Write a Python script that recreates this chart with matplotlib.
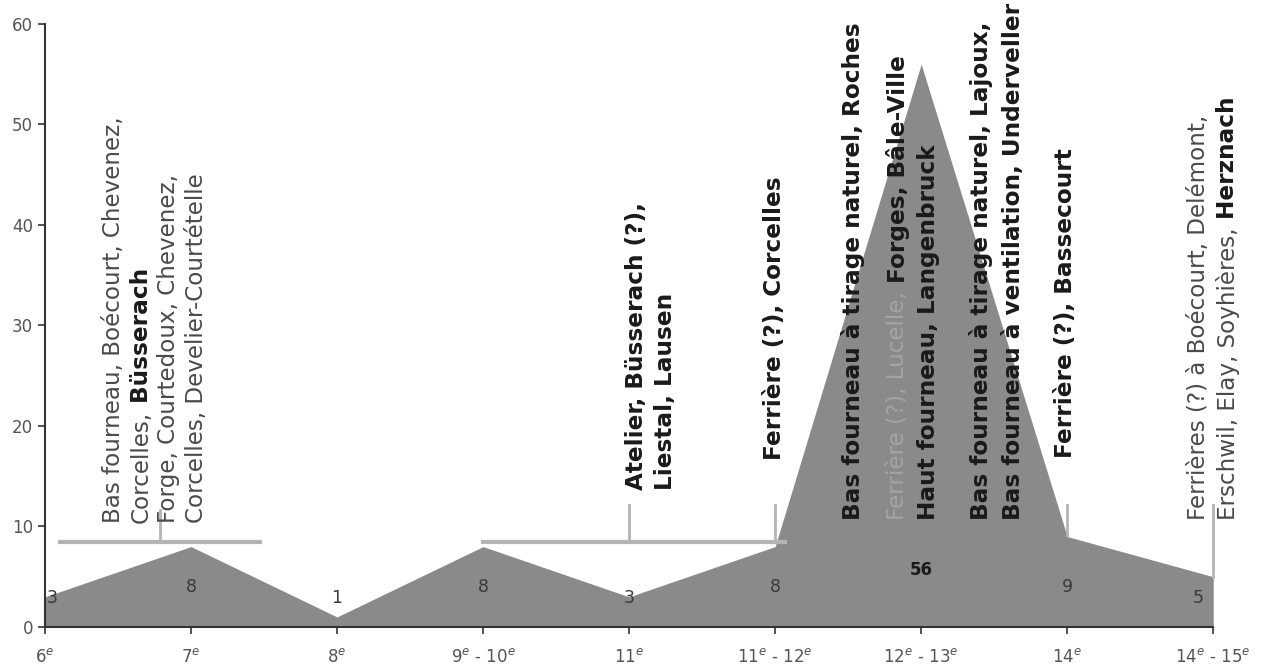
import matplotlib
matplotlib.use("Agg")
import matplotlib.pyplot as plt

# Data
centuries = ["6$^{e}$", "7$^{e}$", "8$^{e}$", "9$^{e}$ - 10$^{e}$", "11$^{e}$",
             "11$^{e}$ - 12$^{e}$", "12$^{e}$ - 13$^{e}$", "14$^{e}$", "14$^{e}$ - 15$^{e}$"]
counts = [3, 8, 1, 8, 3, 8, 56, 9, 5]

# Annotation blocks: each line is a list of (text, weight) pieces
notes_a = [[("Bas fourneau, Boécourt, Chevenez,", "normal")],
           [("Corcelles,", "normal"), (" Büsserach", "bold")]]
notes_b = [[("Forge, Courtedoux, Chevenez,", "normal")],
           [("Corcelles, Develier-Courtételle", "normal")]]
notes_c = [[("Atelier, Büsserach (?),", "bold")],
           [("Liestal, Lausen", "bold")]]
notes_d = [[("Ferrière (?), Corcelles", "bold")]]
notes_e = [[("Bas fourneau à tirage naturel, Roches", "bold")]]
notes_f = [[("Ferrière (?), Lucelle,", "light"), (" Forges, Bâle-Ville", "bold")],
           [("Haut fourneau, Langenbruck", "bold")]]
notes_g = [[("Bas fourneau à tirage naturel, Lajoux,", "bold")],
           [("Bas fourneau à ventilation, Underveller", "bold")]]
notes_h = [[("Ferrière (?), Bassecourt", "bold")]]
notes_i = [[("Ferrières (?) à Boécourt, Delémont,", "normal")],
           [("Erschwil, Elay, Soyhières,", "normal"), (" Herznach", "bold")]]

plt.rcParams["font.family"] = ["DejaVu Sans"]

STYLES = {
    "normal": dict(fontweight="normal", color="#4a4a4a", fontsize=16.6),
    "light": dict(fontweight="normal", color="#a4a4a4", fontsize=16.6),
    "bold": dict(fontweight="bold", color="#1a1a1a", fontsize=16.7),
}


def rotated_line(ax, x, y, pieces):
    prev = None
    for text, weight in pieces:
        style = dict(rotation=90, annotation_clip=False, **STYLES[weight])
        if prev is None:
            prev = ax.annotate(text, xy=(x, y), xycoords="data",
                               ha="center", va="bottom", **style)
        else:
            prev = ax.annotate(text, xy=(0, 1), xycoords=prev,
                               ha="left", va="bottom", **style)


def main():
    fig = plt.figure(figsize=(12.63, 6.68), dpi=100)
    ax = fig.add_axes([0.0356, 0.0614, 0.925, 0.9027])

    xs = list(range(len(counts)))
    ax.fill_between(xs, counts, 0, color="#8a8a8a", linewidth=0)

    # value labels
    for x, v in zip(xs, counts):
        dx = 0.05 if x == 0 else (-0.1 if x == len(xs) - 1 else 0)
        if v == 56:
            ax.text(x, 5.7, str(v), ha="center", va="center",
                    fontsize=12, fontweight="bold", color="#1a1a1a")
        else:
            y = 4.0 if v >= 8 else 2.9
            ax.text(x + dx, y, str(v), ha="center", va="center",
                    fontsize=12.5, color="#3a3a3a")

    # bracket lines
    gray = "#b4b4b4"
    ax.plot([0.1, 1.47], [8.45, 8.45], color=gray, lw=3, clip_on=False)
    ax.plot([0.79, 0.79], [8.45, 11.6], color=gray, lw=2, clip_on=False)
    ax.plot([3.0, 5.07], [8.45, 8.45], color=gray, lw=3, clip_on=False)
    ax.plot([4.0, 4.0], [8.45, 12.1], color=gray, lw=2, clip_on=False)
    ax.plot([5.0, 5.0], [8.45, 12.1], color=gray, lw=2, clip_on=False)
    ax.plot([7.0, 7.0], [9.15, 12.1], color=gray, lw=2, clip_on=False)
    ax.plot([8.0, 8.0], [5.0, 12.1], color=gray, lw=2, clip_on=False)

    # rotated annotations: (block, [line x positions], bottom y)
    blocks = [(notes_a, [0.466, 0.658], 10.35),
              (notes_b, [0.849, 1.041], 10.35),
              (notes_c, [4.048, 4.247], 13.6),
              (notes_d, [4.993], 16.6),
              (notes_e, [5.53], 10.65),
              (notes_f, [5.84, 6.05], 10.65),
              (notes_g, [6.41, 6.63], 10.65),
              (notes_h, [6.99], 16.8),
              (notes_i, [7.9, 8.1], 10.65)]
    for block, line_xs, y0 in blocks:
        for pieces, lx in zip(block, line_xs):
            rotated_line(ax, lx, y0, pieces)

    ax.set_xlim(0, 8)
    ax.set_ylim(0, 60)
    ax.set_xticks(xs)
    ax.set_xticklabels(centuries)
    ax.set_yticks(range(0, 61, 10))
    ax.tick_params(axis="both", colors="#333333", labelcolor="#555555",
                   labelsize=12, direction="out", length=5, width=1.2)
    ax.tick_params(axis="x", pad=10)
    for side in ["top", "right"]:
        ax.spines[side].set_visible(False)
    for side in ["left", "bottom"]:
        ax.spines[side].set_color("#333333")
        ax.spines[side].set_linewidth(1.5)

    fig.savefig("out.png", dpi=100)


if __name__ == "__main__":
    main()
